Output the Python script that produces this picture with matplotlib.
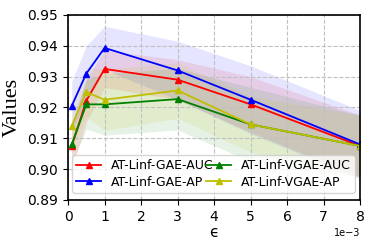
import matplotlib
matplotlib.use("Agg")
import matplotlib.pyplot as plt
import numpy as np

eps = [0.0001, 0.0005, 0.001, 0.003, 0.005, 0.008]

gae_auc = [0.9075, 0.9222, 0.9325, 0.929, 0.921, 0.9075]
gae_ap = [0.9205, 0.931, 0.9393, 0.932, 0.9225, 0.908]
vgae_auc = [0.908, 0.921, 0.921, 0.9227, 0.9145, 0.9075]
vgae_ap = [0.914, 0.925, 0.9225, 0.9255, 0.9145, 0.9075]

gae_auc_std = [0.008, 0.007, 0.006, 0.0065, 0.009, 0.010]
gae_ap_std = [0.008, 0.009, 0.007, 0.0095, 0.011, 0.011]
vgae_auc_std = [0.006, 0.008, 0.010, 0.010, 0.012, 0.010]
vgae_ap_std = [0.007, 0.008, 0.010, 0.009, 0.009, 0.010]

series = [
    ("AT-Linf-GAE-AUC", gae_auc, gae_auc_std, "r"),
    ("AT-Linf-GAE-AP", gae_ap, gae_ap_std, "b"),
    ("AT-Linf-VGAE-AUC", vgae_auc, vgae_auc_std, "g"),
    ("AT-Linf-VGAE-AP", vgae_ap, vgae_ap_std, "y"),
]

fig = plt.figure(figsize=(3.74, 2.49), dpi=100)
ax = fig.add_axes([0.182, 0.197, 0.781, 0.743])

x = np.array(eps)
for label, vals, std, color in series:
    vals = np.array(vals)
    std = np.array(std)
    ax.plot(x, vals, color=color, marker="^", markersize=5, linewidth=1.3, label=label)
    ax.fill_between(x, vals - std, vals + std, color=color, alpha=0.1, linewidth=0)

ax.set_xlim(0, 0.008)
ax.set_ylim(0.89, 0.95)
ax.set_xticks(np.arange(0, 0.0081, 0.001))
ax.set_yticks([0.89, 0.90, 0.91, 0.92, 0.93, 0.94, 0.95])
ax.ticklabel_format(axis="x", style="sci", scilimits=(-3, -3))
ax.xaxis.get_offset_text().set_fontsize(7)
ax.tick_params(labelsize=10)
ax.grid(True, linestyle="--", color="#c0c0c0", linewidth=0.8)
for s in ax.spines.values():
    s.set_linewidth(1.2)

ax.set_xlabel("\u03f5", fontsize=11, labelpad=1)
ax.set_ylabel("Values", fontsize=16, family="Liberation Serif")
ax.legend(ncol=2, fontsize=9, loc="lower left", bbox_to_anchor=(0.015, 0.04),
          columnspacing=-0.6, handlelength=2.0, handletextpad=0.8, borderaxespad=0.0,
          borderpad=0.3, labelspacing=0.3)

fig.savefig("out.png", dpi=100)
